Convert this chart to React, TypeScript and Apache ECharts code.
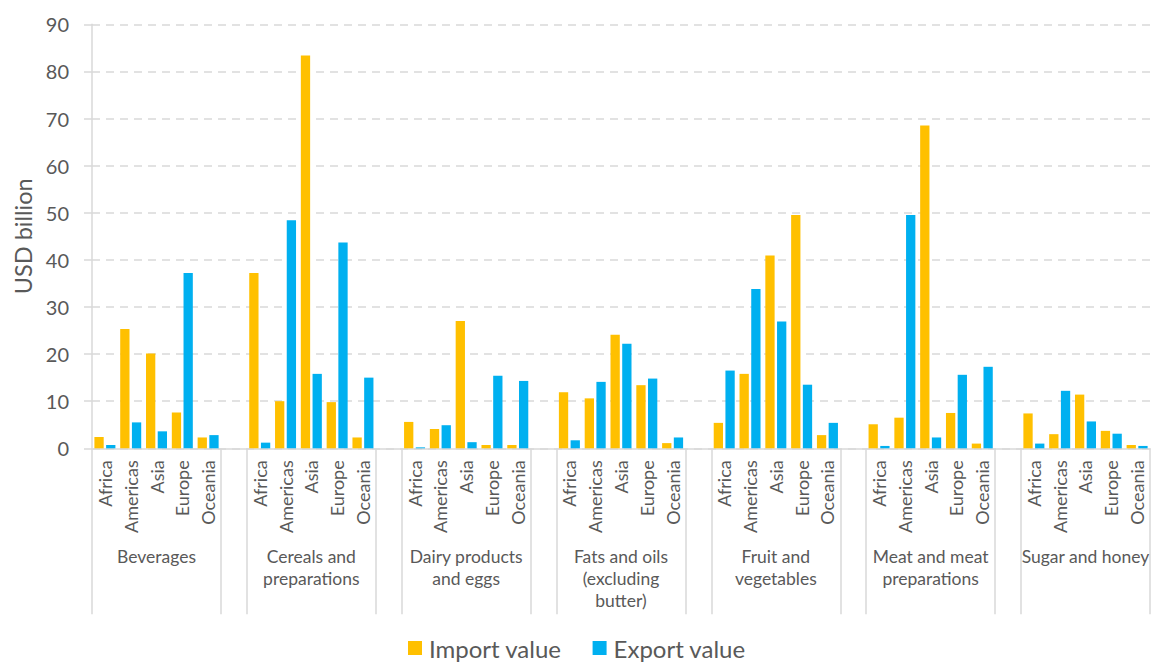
import React, { useEffect, useRef } from 'react';
import * as echarts from 'echarts';

const groups = [
  'Beverages',
  'Cereals and\npreparations',
  'Dairy products\nand eggs',
  'Fats and oils\n(excluding\nbutter)',
  'Fruit and\nvegetables',
  'Meat and meat\npreparations',
  'Sugar and honey',
];
const regions = ['Africa', 'Americas', 'Asia', 'Europe', 'Oceania'];

const importValues = [
  [2.4, 25.3, 20.1, 7.6, 2.3],
  [37.2, 10.0, 83.4, 9.8, 2.3],
  [5.6, 4.1, 27.0, 0.7, 0.7],
  [11.9, 10.6, 24.1, 13.4, 1.1],
  [5.4, 15.8, 40.9, 49.5, 2.8],
  [5.1, 6.5, 68.5, 7.5, 1.0],
  [7.4, 3.0, 11.4, 3.7, 0.7],
];
const exportValues = [
  [0.7, 5.5, 3.6, 37.2, 2.8],
  [1.2, 48.4, 15.8, 43.7, 15.0],
  [0.2, 4.9, 1.3, 15.4, 14.3],
  [1.7, 14.1, 22.2, 14.8, 2.3],
  [16.5, 33.8, 26.9, 13.5, 5.4],
  [0.5, 49.5, 2.3, 15.6, 17.3],
  [1.0, 12.2, 5.7, 3.1, 0.5],
];

const seriesNames = ['Import value', 'Export value'];
const colors = ['#FFC000', '#00B0F0'];
const yMin = 0;
const yMax = 90;
const yInterval = 10;

const FONT = 'Lato, "Noto Sans", sans-serif';
const TEXT = '#595959';
const LINE = '#d9d9d9';

function buildFlat() {
  const cats: string[] = [];
  const groupCats: string[] = [];
  const imp: (number | null)[] = [];
  const exp: (number | null)[] = [];
  groups.forEach((g, gi) => {
    regions.forEach((r, ri) => {
      cats.push(r);
      groupCats.push(ri === 2 ? g : '');
      imp.push(importValues[gi][ri]);
      exp.push(exportValues[gi][ri]);
    });
    if (gi < groups.length - 1) {
      cats.push('');
      groupCats.push('');
      imp.push(null);
      exp.push(null);
    }
  });
  return { cats, groupCats, imp, exp };
}

export default function App() {
  const ref = useRef<HTMLDivElement>(null);
  useEffect(() => {
    document.body.style.margin = '0';
    const chart = echarts.init(ref.current!, null, { renderer: 'svg' });
    const { cats, groupCats, imp, exp } = buildFlat();
    chart.setOption({
      animation: false,
      textStyle: { fontFamily: FONT, color: TEXT },
      grid: {
        left: 92,
        right: 1,
        top: 24.3,
        bottom: 215.7,
        containLabel: false,
        outerBoundsMode: 'none',
      },
      legend: {
        data: seriesNames,
        left: 408,
        top: 636,
        icon: 'rect',
        itemWidth: 14,
        itemHeight: 14,
        itemGap: 31,
        padding: 0,
        textStyle: {
          fontSize: 24,
          lineHeight: 24,
          color: TEXT,
          fontFamily: FONT,
          padding: [0, 0, 0, 2],
        },
      },
      xAxis: [
        {
          type: 'category',
          data: cats,
          position: 'bottom',
          axisLine: { show: true, lineStyle: { color: LINE, width: 1.5 } },
          axisTick: {
            show: true,
            length: 166,
            interval: (i: number) => i % 6 === 0 || i % 6 === 5,
            lineStyle: { color: LINE, width: 1.5 },
          },
          axisLabel: {
            interval: 0,
            rotate: 90,
            margin: 12,
            fontSize: 18,
            color: TEXT,
            fontFamily: FONT,
          },
          splitLine: { show: false },
        },
        {
          type: 'category',
          data: groupCats,
          position: 'bottom',
          gridIndex: 0,
          axisLine: { show: false },
          axisTick: { show: false },
          axisLabel: {
            interval: 0,
            margin: 97,
            fontSize: 17.5,
            lineHeight: 22,
            align: 'center',
            color: TEXT,
            fontFamily: FONT,
          },
          splitLine: { show: false },
        },
      ],
      yAxis: {
        type: 'value',
        min: yMin,
        max: yMax,
        interval: yInterval,
        name: 'USD billion',
        nameLocation: 'middle',
        nameGap: 57,
        nameTextStyle: { fontSize: 23.5, color: TEXT, fontFamily: FONT },
        axisLine: { show: true, lineStyle: { color: LINE, width: 1.5 } },
        axisTick: { show: true, length: 8, lineStyle: { color: LINE, width: 1.5 } },
        axisLabel: { fontSize: 20, margin: 23, color: TEXT, fontFamily: FONT },
        splitLine: {
          show: true,
          lineStyle: { color: LINE, width: 1.5, type: [8, 6] },
        },
      },
      series: [
        {
          name: seriesNames[0],
          type: 'bar',
          xAxisIndex: 0,
          data: imp,
          itemStyle: { color: colors[0] },
          barGap: '26%',
          barCategoryGap: '18.6%',
        },
        {
          name: seriesNames[1],
          type: 'bar',
          xAxisIndex: 0,
          data: exp,
          itemStyle: { color: colors[1] },
          barGap: '26%',
          barCategoryGap: '18.6%',
        },
      ],
    });
    return () => chart.dispose();
  }, []);
  return <div ref={ref} style={{ width: 1151, height: 664 }} />;
}
